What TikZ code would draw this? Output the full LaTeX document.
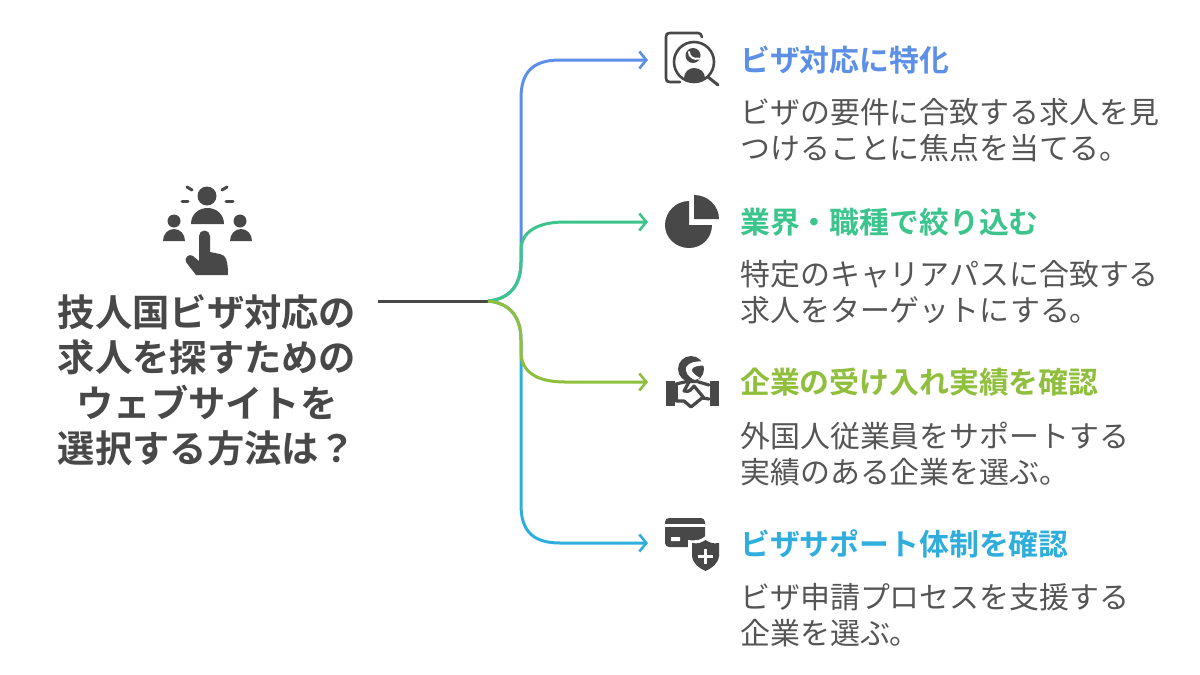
\documentclass[tikz,border=0pt]{standalone}
\usepackage{fontspec}
\setmainfont{Noto Sans CJK JP}
\newfontfamily\jpb{Noto Sans CJK JP Bold}
\usetikzlibrary{arrows.meta}
\definecolor{ink}{HTML}{484848}
\definecolor{desc}{HTML}{555555}
\definecolor{cblue}{HTML}{5B8FE8}
\definecolor{cgreen}{HTML}{3CC48D}
\definecolor{clime}{HTML}{8FBF3C}
\definecolor{ccyan}{HTML}{2FAEDD}
\tikzset{
  titletxt/.style={anchor=center,align=center,text=ink,font=\jpb\fontsize{37.3}{45.4}\selectfont,inner sep=0},
  head/.style={anchor=west,inner sep=0,font=\jpb\fontsize{29.85}{36}\selectfont},
  body/.style={anchor=north west,align=left,inner sep=0,text=desc,font=\fontsize{29.95}{35.5}\selectfont},
  conn/.style={line width=3pt,-{Straight Barb[length=7pt,width=17pt,line width=2.6pt]}},
  icon/.style={fill=ink,draw=none},
  iconl/.style={draw=ink,fill=none,line width=3pt,line cap=round,line join=round},
}
\begin{document}
\begin{tikzpicture}[x=1pt,y=-1pt]
\useasboundingbox[fill=white] (0,0) rectangle (1200,675);
% Title
\node[titletxt] (title) at (207,380.5) {技人国ビザ対応の\\求人を探すための\\ウェブサイトを\\選択する方法は？};
% Connector anchors
\coordinate (start) at (378,301);
\coordinate (hub) at (488,301);
\coordinate (a1) at (648,60);
\coordinate (a2) at (648,222);
\coordinate (a3) at (648,382);
\coordinate (a4) at (648,543);
% Connectors
\draw[line width=3pt,ink] (start) -- (hub);
\draw[conn,cblue] (hub) .. controls (510,299) and (521,285) .. (521,262) -- (521,98) .. controls (521,72) and (533,60) .. (560,60) -- (a1);
\draw[conn,ccyan] (hub) .. controls (510,303) and (521,317) .. (521,340) -- (521,505) .. controls (521,531) and (533,543) .. (560,543) -- (a4);
\draw[conn,cgreen] (hub) .. controls (510,299) and (521,285) .. (521,262) -- (521,250) .. controls (521,232) and (537,222) .. (565,222) -- (a2);
\draw[conn,clime] (hub) .. controls (510,303) and (521,317) .. (521,340) -- (521,352) .. controls (521,372) and (537,382) .. (565,382) -- (a3);
% Texts
\node[head,text=cblue] (h1) at (740,60) {ビザ対応に特化};
\node[body] (b1) at (740,98.5) {ビザの要件に合致する求人を見\\つけることに焦点を当てる。};
\node[head,text=cgreen] (h2) at (740,222) {業界・職種で絞り込む};
\node[body] (b2) at (740,260.5) {特定のキャリアパスに合致する\\求人をターゲットにする。};
\node[head,text=clime] (h3) at (740,382) {企業の受け入れ実績を確認};
\node[body] (b3) at (740,422) {外国人従業員をサポートする\\実績のある企業を選ぶ。};
\node[head,text=ccyan] (h4) at (740,544) {ビザサポート体制を確認};
\node[body] (b4) at (740,583.5) {ビザ申請プロセスを支援する\\企業を選ぶ。};
% Main icon
\fill[icon] (207,196) circle (9.5);
\fill[icon] (191,224) .. controls (191,214) and (199,208) .. (207.5,208) .. controls (216,208) and (224,214) .. (224,224) -- cycle;
\fill[icon] (174,221) circle (6.5);
\fill[icon] (240,221) circle (6.5);
\fill[icon] (163,241) .. controls (163,234) and (168,229) .. (174,229) .. controls (180,229) and (185,234) .. (185,241) -- cycle;
\fill[icon] (230,241) .. controls (230,234) and (235,229) .. (241,229) .. controls (247,229) and (252,234) .. (252,241) -- cycle;
\draw[iconl] (187,187) -- (192,190);
\draw[iconl] (222,190) -- (227,187);
\draw[iconl] (182,201) -- (188,201);
\draw[iconl] (226,201) -- (233,201);
\fill[icon] (199,236) arc (180:360:5.5) -- (210,252) -- (220,254) .. controls (226,255) and (228,261) .. (228,275) -- (196,275) -- (186,262) .. controls (184,258) and (189,253) .. (193,256) -- (199,261) -- cycle;
% Icon 1
\draw[iconl,line width=2.6pt] (702,37) .. controls (701,34) and (700,33) .. (698,33) -- (670,33) .. controls (667,33) and (666,34) .. (666,37) -- (666,78) .. controls (666,81) and (667,82) .. (670,82) -- (680,82);
\fill[white] (694,62) circle (21);
\draw[iconl,line width=2.6pt] (694,62) circle (20);
\draw[iconl] (708,77) -- (718,85);
\fill[icon] (693,55.5) circle (7.5);
\draw[white,line width=2pt,line cap=round] (689,52) .. controls (689,57) and (694,60) .. (699,58.5);
\fill[icon] (684,78) .. controls (684,72) and (689,68) .. (694,68) .. controls (700,68) and (705,72) .. (705,78) .. controls (699,82) and (689,82) .. (684,78) -- cycle;
% Icon 2
\fill[icon] (689,201) -- (689,225) -- (712,225) .. controls (712,238) and (702,248) .. (689,248) .. controls (676,248) and (665,238) .. (665,225) .. controls (665,212) and (676,201) .. (689,201) -- cycle;
\fill[icon] (694,195) .. controls (708,195) and (719,206) .. (719,219) -- (694,219) -- cycle;
% Icon 3
\fill[icon] (691,369) circle (13);
\fill[white] (683,381) rectangle (699,386);
\fill[white] (703,361.5) .. controls (697,361) and (689,362) .. (686,367) .. controls (685,372) and (688,377) .. (695,380) -- (700,378) .. controls (695,375) and (691,372) .. (692,369) .. controls (694,366) and (699,365.5) .. (705,365.5) -- cycle;
\fill[icon] (666,381) rectangle (675,406);
\fill[icon] (710,381) rectangle (719,406);
\draw[iconl,line width=3.2pt] (676,384) -- (687,381.5) -- (697,381.5) -- (709,385);
\draw[iconl,line width=3.2pt] (676,401) -- (684,401) -- (691,407) -- (702,398) -- (709,399);
\draw[iconl,line width=3.2pt] (676,386) -- (676,400);
\draw[iconl,line width=3.2pt] (689,382) -- (684,391) .. controls (690,393) and (692,388) .. (694,386) -- (704,398);
% Icon 4
\fill[icon,rounded corners=4pt] (665,518) rectangle (705,547);
\fill[white] (665,524) rectangle (705,527);
\fill[white,rounded corners=0.5pt] (671,537) rectangle (680,541);
\fill[white] (688,540) .. controls (697,541) and (701,540) .. (705.5,536) .. controls (710,540) and (714,541) .. (723,540) -- (723,556) .. controls (722,566) and (714,571) .. (705.5,575) .. controls (697,571) and (689,566) .. (688,556) -- cycle;
\fill[icon] (692,543) .. controls (698,544) and (701,543) .. (705.5,540) .. controls (710,543) and (713,544) .. (719,543) -- (719,556) .. controls (718,564) and (712,568) .. (705.5,571) .. controls (699,568) and (693,564) .. (692,556) -- cycle;
\fill[white] (703.8,549) rectangle (707.2,564);
\fill[white] (698,554.8) rectangle (713,558.2);
\end{tikzpicture}
\end{document}
